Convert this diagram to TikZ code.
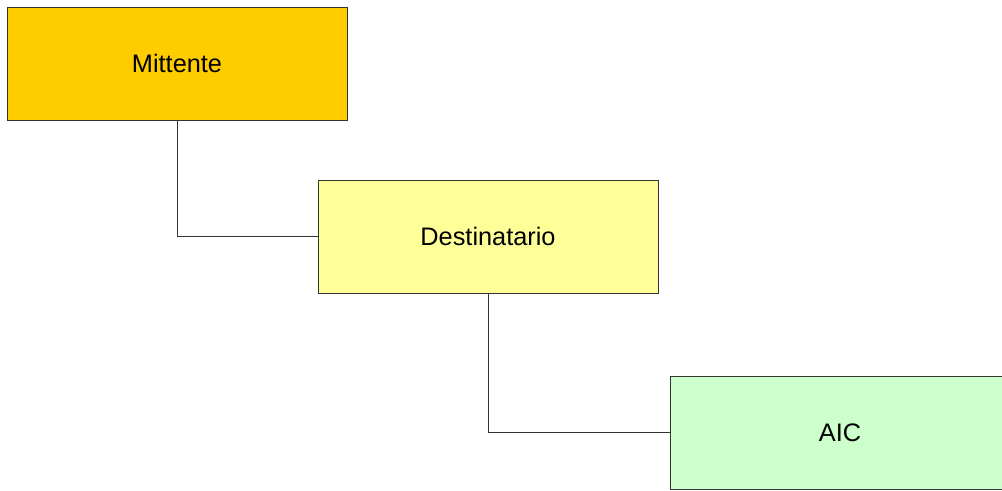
\documentclass[tikz,border=0pt]{standalone}
\usepackage{fontspec}
\setmainfont{Liberation Sans}
\usepackage{xcolor}
\usetikzlibrary{positioning}
\definecolor{mitt}{HTML}{FFCC00}
\definecolor{dest}{HTML}{FFFF99}
\definecolor{aicc}{HTML}{CCFFCC}
\tikzset{%
   bx/.style={
      draw=black!80,
      line width=0.75pt,
      rectangle,
      inner sep=0mm,
      minimum width=255pt,
      minimum height=84.75pt,
      font=\fontsize{19}{22}\selectfont
   },
   ln/.style={
      draw=black!80,
      line width=0.75pt
   },
}

\begin{document}
\begin{tikzpicture}[x=0.75pt, y=-0.75pt]
      \useasboundingbox (0,0) rectangle (1002,490);
      \node[bx, fill=mitt] (M) at (177,63.5) {Mittente};
      \node[bx, fill=dest] (D) at (488,236.5) {Destinatario};
      \node[bx, fill=aicc] (A) at (840,432.5) {AIC};
      \draw[ln] (M.south) |- (D.west);
      \draw[ln] (D.south) |- (A.west);
   \end{tikzpicture}
\end{document}
